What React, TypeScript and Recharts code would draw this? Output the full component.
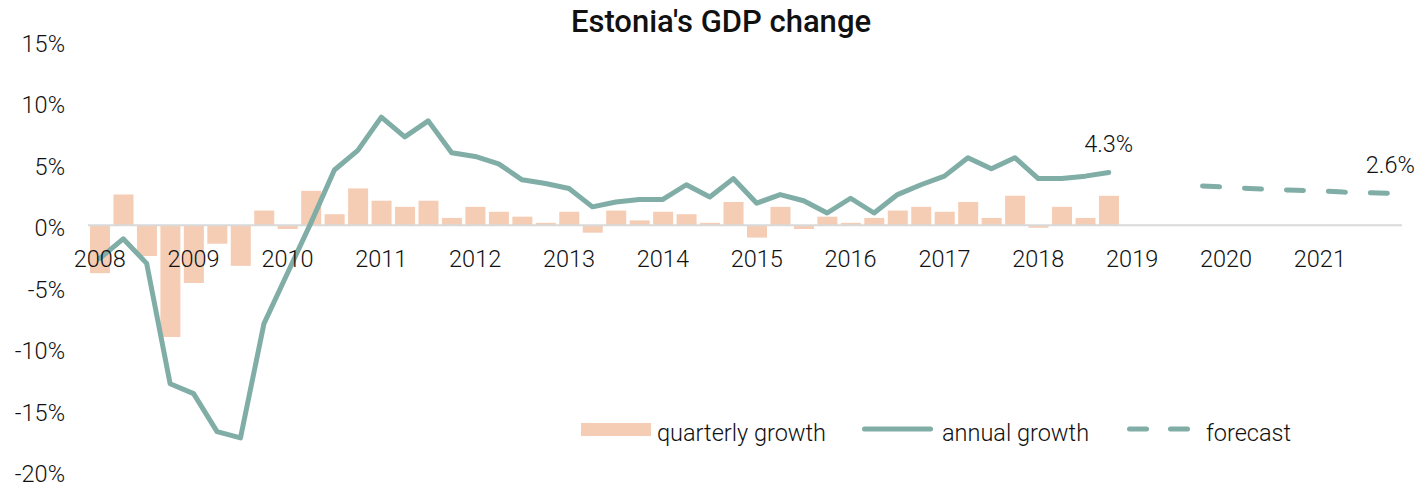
import { ComposedChart, Bar, Line, XAxis, YAxis, ReferenceLine, Legend, LabelList } from 'recharts';

// quarters run 2008 Q1 .. 2021 Q4
const years = ['2008', '2009', '2010', '2011', '2012', '2013', '2014', '2015', '2016', '2017', '2018', '2019', '2020', '2021'];

// quarter-on-quarter growth, 2008 Q1 .. 2018 Q4 (%)
const quarterlyGrowth = [
  -3.9, 2.5, -2.5, -9.1, -4.7, -1.5, -3.3, 1.2, -0.3, 2.8, 0.9, 3.0,
  2.0, 1.5, 2.0, 0.6, 1.5, 1.1, 0.7, 0.2, 1.1, -0.6, 1.2, 0.4,
  1.1, 0.9, 0.2, 1.9, -1.0, 1.5, -0.3, 0.7, 0.2, 0.6, 1.2, 1.5,
  1.1, 1.9, 0.6, 2.4, -0.2, 1.5, 0.6, 2.4,
];

// year-on-year growth, 2008 Q1 .. 2018 Q4 (%)
const annualGrowth = [
  -2.7, -1.1, -3.1, -12.9, -13.7, -16.8, -17.3, -8.0, -3.9, 0.2, 4.5, 6.1,
  8.8, 7.2, 8.5, 5.9, 5.6, 5.0, 3.7, 3.4, 3.0, 1.5, 1.9, 2.1,
  2.1, 3.3, 2.3, 3.8, 1.8, 2.5, 2.0, 1.0, 2.2, 1.0, 2.5, 3.3,
  4.0, 5.5, 4.6, 5.5, 3.8, 3.8, 4.0, 4.3,
];

// forecast, 2019 Q4 .. 2021 Q4 (%)
const forecastFrom = '2019Q4';
const forecastGrowth = [3.2, 3.1, 3.0, 2.9, 2.85, 2.8, 2.7, 2.65, 2.6];

const yTicks = [-20, -15, -10, -5, 0, 5, 10, 15];

const BAR_COLOR = '#F5CCB4';
const LINE_COLOR = '#80ADA6';
const AXIS_COLOR = '#D9D9D9';
const TEXT_COLOR = '#111';
const FONT = 'Roboto, "Liberation Sans", Arial, sans-serif';
const FONT_SIZE = 23.5;

const WIDTH = 1422;
const HEIGHT = 487;
const MARGIN = { top: 41, right: 20, bottom: 0, left: 8 };
const X_AXIS_HEIGHT = 16;
const PLOT_H = HEIGHT - MARGIN.top - MARGIN.bottom - X_AXIS_HEIGHT;
const ZERO_Y = MARGIN.top + (PLOT_H * 15) / 35;

const quarters = years.flatMap((y) => [1, 2, 3, 4].map((q) => `${y}Q${q}`));
const fcStart = quarters.indexOf(forecastFrom);

const data = quarters.map((q, i) => ({
  quarter: q,
  quarterly: i < quarterlyGrowth.length ? quarterlyGrowth[i] : null,
  annual: i < annualGrowth.length ? annualGrowth[i] : null,
  forecast: i >= fcStart ? forecastGrowth[i - fcStart] : null,
}));

const yearTicks = quarters.filter((q) => q.endsWith('Q1'));

function YTick({ x, y, payload }: any) {
  return (
    <text x={x} y={y + 11} textAnchor="end" fill={TEXT_COLOR} fontFamily={FONT} fontWeight={300} fontSize={FONT_SIZE}>
      {payload.value}%
    </text>
  );
}

function XTick({ x, payload }: any) {
  // labels sit just under the zero line, not at the bottom of the plot
  return (
    <text x={x} y={ZERO_Y + 42} textAnchor="middle" fill={TEXT_COLOR} fontFamily={FONT} fontWeight={300} fontSize={FONT_SIZE}>
      {String(payload.value).slice(0, 4)}
    </text>
  );
}

const endLabel = (lastIndex: number) => (props: any) => {
  if (props.index !== lastIndex || props.value == null) return null;
  return (
    <text x={props.x} y={props.y - 20} textAnchor="middle" fill={TEXT_COLOR} fontFamily={FONT} fontWeight={300} fontSize={FONT_SIZE}>
      {Number(props.value).toFixed(1)}%
    </text>
  );
};

function LegendContent() {
  const txt = { fill: TEXT_COLOR, fontFamily: FONT, fontWeight: 300, fontSize: FONT_SIZE };
  return (
    <svg width={760} height={40} style={{ display: 'block' }}>
      <rect x={6} y={9} width={70} height={13} fill={BAR_COLOR} />
      <text x={82} y={27} {...txt}>quarterly growth</text>
      <line x1={289.5} y1={15} x2={355.5} y2={15} stroke={LINE_COLOR} strokeWidth={5} strokeLinecap="round" />
      <text x={367} y={27} {...txt}>annual growth</text>
      <line x1={554.5} y1={15} x2={614.5} y2={15} stroke={LINE_COLOR} strokeWidth={5} strokeLinecap="round" strokeDasharray="17 24" />
      <text x={631} y={27} {...txt}>forecast</text>
    </svg>
  );
}

export default function App() {
  return (
    <div style={{ position: 'absolute', left: 0, top: 0, width: WIDTH, height: HEIGHT, background: '#fff' }}>
      <svg width={WIDTH} height={45} style={{ position: 'absolute', left: 0, top: 0 }}>
        <text x={721} y={32} textAnchor="middle" fill={TEXT_COLOR} fontFamily={FONT} fontWeight={500} fontSize={31}>
          Estonia's GDP change
        </text>
      </svg>
      <div style={{ position: 'absolute', left: 0, top: 0 }}>
        <ComposedChart width={WIDTH} height={HEIGHT} data={data} margin={MARGIN}>
          <XAxis
            dataKey="quarter"
            ticks={yearTicks}
            interval={0}
            height={X_AXIS_HEIGHT}
            axisLine={false}
            tickLine={false}
            tick={<XTick />}
          />
          <YAxis
            type="number"
            domain={[-20, 15]}
            ticks={yTicks}
            width={80}
            axisLine={false}
            tickLine={false}
            tickMargin={17}
            tick={<YTick />}
          />
          <ReferenceLine y={0} stroke={AXIS_COLOR} strokeWidth={2} />
          <Bar dataKey="quarterly" fill={BAR_COLOR} barSize={20} isAnimationActive={false} />
          <Line
            type="linear"
            dataKey="annual"
            stroke={LINE_COLOR}
            strokeWidth={5}
            strokeLinejoin="round"
            strokeLinecap="round"
            dot={false}
            activeDot={false}
            isAnimationActive={false}
          >
            <LabelList dataKey="annual" content={endLabel(annualGrowth.length - 1)} />
          </Line>
          <Line
            type="linear"
            dataKey="forecast"
            stroke={LINE_COLOR}
            strokeWidth={5}
            strokeLinecap="round"
            strokeDasharray="17 25"
            dot={false}
            activeDot={false}
            isAnimationActive={false}
          >
            <LabelList dataKey="forecast" content={endLabel(quarters.length - 1)} />
          </Line>
          <Legend
            layout="vertical"
            align="center"
            verticalAlign="middle"
            content={<LegendContent />}
            wrapperStyle={{ left: 575, top: 414, width: 760, height: 40 }}
          />
        </ComposedChart>
      </div>
    </div>
  );
}
